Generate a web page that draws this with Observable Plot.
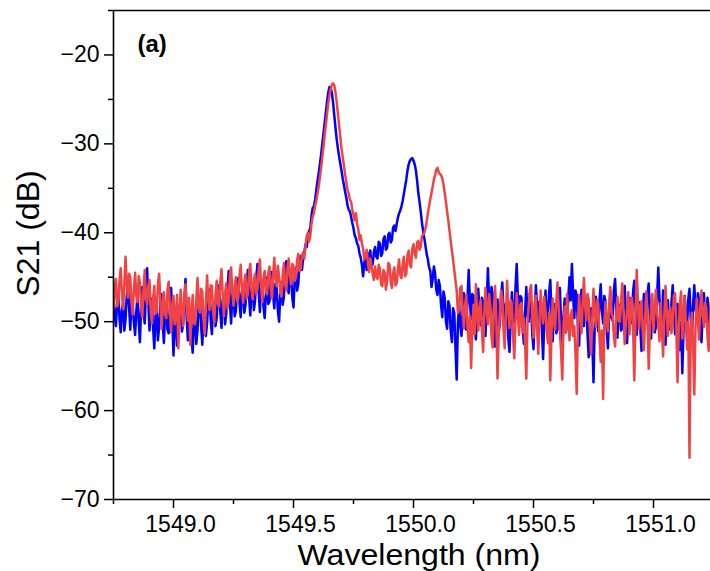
<!DOCTYPE html>
<html>
<head>
<meta charset="utf-8">
<script src="https://cdn.jsdelivr.net/npm/d3@7"></script>
<script src="https://cdn.jsdelivr.net/npm/@observablehq/plot@0.6"></script>
<style>
  html, body { margin: 0; padding: 0; background: #fff; overflow: hidden; }
  #chart { width: 710px; height: 571px; }
</style>
</head>
<body>
<div id="chart"></div>
<script>
// Wavelength sweep (nm): evenly spaced samples
const WL_START = 1548.75;
const WL_STEP = 0.005;

// S21 (dB), blue trace
const blueS21 = [
  -47.5, -49.2, -50.5, -48.0, -46.8, -49.6, -51.2, -48.7, -47.9, -51.0,
  -49.8, -47.2, -45.6, -48.4, -50.9, -47.6, -48.2, -50.1, -51.5, -48.9,
  -47.0, -49.9, -52.3, -48.5, -46.1, -48.8, -50.2, -46.9, -44.0, -47.7,
  -51.0, -48.6, -47.4, -50.7, -53.0, -49.3, -48.8, -52.1, -50.6, -47.9,
  -46.9, -50.2, -52.4, -49.0, -48.0, -50.9, -51.3, -48.2, -46.2, -49.5,
  -53.8, -50.4, -49.1, -52.7, -51.8, -48.4, -47.5, -51.1, -50.3, -47.8,
  -45.2, -49.6, -52.1, -48.3, -48.6, -51.7, -53.5, -50.0, -49.4, -52.5,
  -51.0, -48.1, -47.3, -50.4, -52.6, -49.5, -48.9, -51.6, -50.1, -47.6,
  -46.4, -49.8, -51.4, -48.0, -47.8, -50.5, -49.6, -47.1, -45.9, -48.9,
  -50.7, -47.5, -47.2, -50.3, -49.0, -46.3, -44.3, -47.9, -50.2, -47.0,
  -46.5, -49.4, -48.8, -46.2, -45.1, -47.8, -49.5, -46.7, -46.0, -49.0,
  -48.1, -45.5, -44.2, -47.3, -49.3, -46.4, -45.8, -48.7, -47.6, -45.0,
  -43.5, -46.6, -48.9, -45.2, -46.1, -48.3, -49.6, -46.8, -45.0, -48.0,
  -47.7, -45.3, -44.4, -47.0, -48.5, -45.7, -46.3, -48.8, -50.0, -46.9,
  -45.5, -48.1, -47.2, -44.6, -43.2, -45.9, -46.8, -44.1, -44.6, -47.3,
  -48.4, -45.2, -44.0, -46.5, -45.8, -43.4, -42.6, -44.2, -43.0, -42.2,
  -41.3, -41.6, -40.6, -39.8, -39.5, -38.1, -37.2, -37.0, -36.3, -35.2,
  -34.2, -33.3, -32.3, -31.2, -30.0, -28.8, -27.6, -26.4, -25.2, -24.2,
  -23.6, -23.7, -24.3, -25.4, -26.8, -28.2, -29.5, -30.5, -31.4, -32.2,
  -33.0, -33.9, -34.6, -35.4, -36.0, -36.9, -37.4, -37.6, -38.2, -38.9,
  -39.5, -40.3, -40.6, -41.2, -41.5, -42.3, -42.8, -43.6, -44.9, -43.4,
  -42.6, -44.2, -43.8, -42.4, -42.0, -43.9, -43.5, -42.1, -41.6, -42.7,
  -42.9, -41.0, -41.2, -42.6, -42.3, -40.7, -40.4, -41.9, -41.7, -40.2,
  -40.0, -41.1, -40.8, -39.4, -39.2, -39.8, -39.0, -38.3, -37.8, -37.5,
  -37.0, -36.4, -35.6, -34.8, -34.0, -33.0, -32.3, -31.9, -31.7, -31.6,
  -31.9, -32.3, -33.0, -34.1, -35.5, -36.5, -37.6, -38.8, -39.8, -40.6,
  -41.5, -42.4, -43.0, -43.9, -44.3, -46.1, -45.2, -43.8, -44.6, -46.4,
  -47.0, -45.3, -46.0, -48.2, -49.5, -46.6, -47.3, -49.9, -50.8, -47.7,
  -48.2, -51.0, -52.3, -48.5, -49.0, -53.1, -56.5, -50.2, -48.0, -50.5,
  -51.6, -48.6, -46.8, -49.4, -50.9, -47.4, -44.2, -47.8, -49.7, -46.9,
  -47.1, -50.3, -52.0, -48.4, -46.3, -49.1, -50.4, -47.3, -47.8, -50.6,
  -51.6, -47.9, -44.0, -47.5, -49.2, -46.1, -46.9, -50.0, -52.8, -49.0,
  -47.5, -51.2, -50.1, -47.0, -45.6, -48.7, -51.3, -48.0, -48.2, -51.9,
  -53.4, -49.6, -46.7, -50.2, -49.8, -46.2, -43.5, -47.4, -50.6, -47.1,
  -47.3, -50.8, -52.5, -48.9, -46.1, -49.3, -50.0, -46.8, -48.4, -51.5,
  -53.1, -49.2, -45.9, -48.3, -51.0, -47.7, -47.6, -50.9, -54.2, -49.8,
  -46.5, -50.0, -49.4, -46.7, -45.3, -49.0, -52.2, -48.8, -48.0, -51.3,
  -50.8, -47.5, -46.2, -50.1, -53.6, -49.5, -47.4, -51.2, -50.3, -47.3,
  -45.0, -47.6, -43.5, -46.9, -49.6, -46.5, -47.0, -50.4, -52.7, -48.9,
  -46.4, -49.7, -50.5, -47.2, -47.9, -51.3, -54.0, -50.2, -48.5, -52.0,
  -56.8, -50.6, -47.2, -49.8, -51.1, -47.6, -45.8, -48.8, -50.2, -47.1,
  -47.7, -50.9, -53.0, -49.3, -46.6, -49.5, -49.9, -46.4, -45.2, -48.6,
  -51.8, -48.5, -48.1, -51.0, -50.7, -47.4, -46.0, -49.1, -52.4, -49.0,
  -47.3, -50.2, -49.5, -46.6, -45.4, -48.3, -51.5, -48.2, -47.8, -50.7,
  -53.3, -49.4, -46.9, -49.9, -50.1, -47.0, -45.7, -48.9, -51.9, -48.6,
  -48.3, -51.2, -50.6, -47.1, -43.9, -47.5, -49.2, -51.0, -46.5, -49.3,
  -52.6, -49.1, -47.6, -50.3, -50.9, -47.8, -45.9, -48.7, -51.4, -48.4,
  -48.0, -51.1, -53.2, -50.0, -55.8, -50.9, -47.1, -49.6, -50.4, -47.4,
  -46.3, -49.5, -51.7, -48.1, -45.9, -48.6, -49.3, -46.8, -47.5, -50.5,
  -52.3, -49.0, -46.8, -49.8, -50.0, -47.3, -48.6, -51.0, -51.2
];

// S21 (dB), red trace
const redS21 = [
  -48.5, -46.1, -45.2, -48.3, -47.9, -45.4, -44.0, -46.8, -48.6, -45.9,
  -42.7, -45.6, -47.3, -44.6, -45.0, -47.9, -49.2, -46.3, -44.5, -47.1,
  -47.8, -44.9, -45.6, -48.4, -49.5, -46.5, -44.2, -47.2, -48.1, -46.0,
  -45.3, -48.7, -50.2, -47.4, -46.0, -49.1, -48.9, -45.8, -44.6, -47.5,
  -50.8, -48.0, -46.7, -49.2, -49.6, -46.4, -45.5, -48.6, -51.2, -48.0,
  -47.1, -50.3, -49.3, -47.0, -53.0, -49.4, -46.4, -48.9, -50.5, -47.2,
  -45.8, -48.4, -49.9, -47.3, -52.6, -49.0, -47.0, -50.1, -50.3, -47.5,
  -45.1, -48.0, -49.0, -46.3, -46.6, -49.7, -51.4, -47.8, -44.8, -47.6,
  -48.7, -45.9, -46.0, -48.8, -50.1, -47.0, -45.4, -47.9, -48.3, -45.5,
  -44.1, -46.9, -49.4, -46.8, -45.7, -48.5, -47.6, -44.8, -43.9, -46.6,
  -48.2, -46.0, -45.0, -47.7, -47.3, -44.9, -43.6, -46.2, -47.9, -45.6,
  -44.7, -47.4, -46.8, -44.4, -43.5, -46.3, -47.5, -45.3, -44.6, -46.9,
  -46.2, -44.1, -43.0, -45.9, -47.8, -45.0, -44.3, -46.6, -46.9, -44.5,
  -43.8, -46.1, -47.4, -44.7, -42.8, -45.2, -46.0, -43.7, -44.9, -46.7,
  -47.2, -44.8, -43.4, -45.7, -46.5, -44.0, -42.9, -44.9, -45.8, -43.5,
  -43.7, -45.4, -45.0, -43.1, -42.4, -44.3, -44.1, -42.6, -42.2, -42.9,
  -41.5, -40.4, -40.0, -41.0, -40.3, -39.0, -38.2, -37.8, -37.0, -36.4,
  -35.6, -34.8, -33.8, -32.7, -31.5, -30.3, -29.0, -27.8, -26.6, -25.4,
  -24.5, -23.8, -23.3, -23.2, -23.4, -24.2, -25.3, -26.6, -27.9, -29.2,
  -30.5, -31.5, -32.4, -33.4, -34.3, -35.2, -35.6, -36.3, -36.5, -37.4,
  -38.0, -38.6, -37.8, -39.0, -39.6, -40.8, -40.3, -41.2, -41.8, -43.0,
  -42.6, -41.9, -43.4, -44.4, -42.9, -43.7, -44.6, -45.3, -43.8, -44.9,
  -45.2, -43.6, -44.0, -45.8, -46.0, -44.2, -44.5, -46.4, -45.4, -43.4,
  -43.6, -45.5, -46.2, -44.6, -43.9, -45.9, -45.7, -44.1, -43.0, -44.8,
  -45.1, -43.5, -42.7, -44.9, -44.6, -42.5, -42.0, -43.6, -43.9, -41.8,
  -41.3, -42.3, -42.8, -41.1, -40.9, -41.9, -41.6, -40.4, -40.2, -40.0,
  -39.5, -38.7, -37.8, -37.0, -36.2, -35.5, -34.8, -34.0, -33.5, -32.9,
  -32.7, -33.2, -33.4, -33.5, -33.9, -34.6, -35.5, -36.5, -37.6, -38.6,
  -39.8, -40.9, -42.0, -43.1, -44.2, -45.4, -46.5, -49.0, -48.7, -46.2,
  -46.0, -48.9, -50.8, -48.1, -47.0, -50.6, -52.3, -49.4, -55.2, -50.7,
  -48.1, -51.4, -45.8, -49.0, -51.0, -48.3, -47.6, -50.9, -53.4, -49.1,
  -46.2, -48.8, -50.3, -46.9, -48.4, -51.6, -52.9, -48.5, -46.0, -49.6,
  -56.4, -51.5, -49.1, -46.5, -47.3, -50.8, -53.0, -49.2, -45.4, -48.6,
  -50.7, -47.6, -48.0, -51.7, -54.1, -49.9, -46.8, -49.3, -51.5, -48.1,
  -47.9, -51.2, -49.6, -52.4, -56.4, -50.1, -48.2, -46.4, -45.9, -49.5,
  -51.8, -48.0, -47.1, -50.8, -53.6, -49.7, -46.5, -48.9, -50.2, -47.2,
  -48.8, -51.1, -52.4, -49.0, -56.6, -51.3, -47.4, -49.9, -50.9, -47.7,
  -45.6, -48.5, -51.2, -53.4, -56.5, -50.4, -48.3, -51.2, -46.9, -49.8,
  -52.1, -49.3, -48.7, -51.6, -50.5, -53.6, -58.1, -50.3, -47.0, -49.4,
  -51.3, -47.8, -45.1, -48.2, -49.8, -46.9, -47.5, -51.0, -53.7, -49.6,
  -46.3, -49.2, -50.6, -47.5, -48.1, -51.8, -54.5, -51.0, -58.7, -50.5,
  -47.8, -50.0, -51.1, -48.4, -46.1, -49.0, -49.4, -51.7, -52.8, -49.1,
  -47.2, -49.9, -50.0, -47.4, -45.7, -48.8, -52.5, -50.2, -48.6, -46.7,
  -51.4, -48.2, -47.3, -50.6, -56.6, -49.8, -44.2, -47.6, -50.8, -48.3,
  -47.7, -50.9, -53.2, -49.6, -46.6, -49.4, -55.3, -50.7, -48.9, -46.9,
  -51.0, -48.6, -46.4, -49.0, -50.3, -52.2, -47.9, -50.8, -53.9, -49.5,
  -46.0, -48.7, -51.6, -48.9, -48.4, -51.3, -49.7, -47.1, -46.8, -50.4,
  -56.8, -51.1, -48.0, -46.6, -51.9, -49.3, -47.2, -50.2, -53.1, -50.0,
  -65.3, -51.0, -49.0, -52.7, -58.2, -50.6, -47.4, -49.9, -52.0, -48.2,
  -46.5, -49.1, -50.6, -47.9, -48.5, -51.6, -53.3, -50.1, -47.8
];

// Axis ticks
const xMajorTicks = [1549.0, 1549.5, 1550.0, 1550.5, 1551.0];
const xMinorTicks = [1548.75, 1549.25, 1549.75, 1550.25, 1550.75];
const yMajorTicks = [-70, -60, -50, -40, -30, -20];
const yMinorTicks = [-65, -55, -45, -35, -25, -15];
const xDomain = [1548.75, 1551.2375];
const yDomain = [-70, -15];

const toRows = arr => arr.map((v, i) => ({wl: WL_START + i * WL_STEP, s21: v}));
const blueData = toRows(blueS21);
const redData = toRows(redS21);

const FONT = "'Liberation Sans', Arial, Helvetica, sans-serif";
const minusFmt = d => (d < 0 ? "\u2212" + Math.abs(d) : String(d));

const chart = Plot.plot({
  width: 710,
  height: 571,
  marginLeft: 113,
  marginRight: 0,
  marginTop: 10,
  marginBottom: 72,
  style: {fontFamily: FONT, background: "white", color: "black", overflow: "visible"},
  x: {domain: xDomain, label: null},
  y: {domain: yDomain, label: null},
  marks: [
    Plot.line(blueData, {x: "wl", y: "s21", stroke: "#0000ff", strokeWidth: 2.5, clip: true}),
    Plot.line(redData, {x: "wl", y: "s21", stroke: "#f04444", strokeWidth: 2.5, clip: true}),
    Plot.ruleY([yDomain[0], yDomain[1]], {stroke: "black", strokeWidth: 1.6}),
    Plot.ruleX([xDomain[0]], {stroke: "black", strokeWidth: 1.6}),
    Plot.axisY({ticks: yMajorTicks, tickSize: 9, tickPadding: 5, strokeWidth: 1.5,
      fontSize: 23, tickFormat: minusFmt, label: null}),
    Plot.axisY({ticks: yMinorTicks, tickSize: 5, strokeWidth: 1.5, tickFormat: () => "", label: null}),
    Plot.axisX({ticks: xMajorTicks, tickSize: 9, strokeWidth: 1.5, tickFormat: () => "", label: null}),
    Plot.axisX({ticks: xMajorTicks, tickSize: 0, tickPadding: 16, fontSize: 23,
      tickFormat: d => d.toFixed(1), dx: 7, label: null}),
    Plot.axisX({ticks: xMinorTicks, tickSize: 5, strokeWidth: 1.5, tickFormat: () => "", label: null}),
    Plot.text(["Wavelength (nm)"], {frameAnchor: "bottom", dx: 7, dy: 55.4, lineAnchor: "middle",
      textAnchor: "middle", fontSize: 30, fill: "black", className: "xtitle"}),
    Plot.text(["S21 (dB)"], {frameAnchor: "left", rotate: -90, dx: -85, dy: -21.5, lineAnchor: "middle",
      textAnchor: "middle", fontSize: 32, fill: "black"}),
    Plot.text(["(a)"], {frameAnchor: "top-left", dx: 24, dy: 34, textAnchor: "start", lineAnchor: "middle",
      fontSize: 24, fontWeight: "bold", fill: "black"})
  ]
});

// Condensed look of the x title, as in the reference
d3.select(chart).selectAll(".xtitle text")
  .attr("textLength", 243)
  .attr("lengthAdjust", "spacingAndGlyphs");

document.getElementById("chart").appendChild(chart);
</script>
</body>
</html>
